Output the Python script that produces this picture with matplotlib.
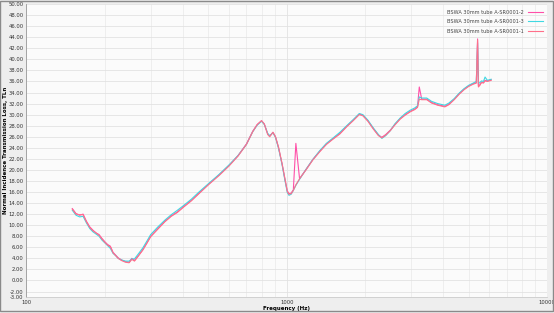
import numpy as np
import matplotlib
matplotlib.use("Agg")
import matplotlib.pyplot as plt
from matplotlib.patches import Rectangle
from matplotlib.ticker import FixedLocator, NullFormatter

# frequency points (Hz), shared by all three measurements
freq = [150, 155, 160, 165, 170, 175, 180, 185, 190, 195,
        200, 205, 210, 215, 220, 225, 232, 240, 248, 254,
        260, 270, 280, 290, 300, 320, 340, 360, 380, 400,
        430, 460, 500, 550, 600, 650, 700, 740, 770, 800,
        820, 845, 860, 885, 905, 930, 960, 985, 1005, 1020,
        1040, 1060, 1084, 1120, 1190, 1260, 1340, 1420, 1500, 1600,
        1700, 1800, 1900, 1960, 2050, 2150, 2250, 2320, 2400, 2500,
        2600, 2730, 2850, 2980, 3100, 3180, 3230, 3300, 3450, 3600,
        3800, 4050, 4200, 4400, 4600, 4800, 5000, 5200, 5350, 5410,
        5450, 5520, 5600, 5700, 5780, 5900, 6100]

# A-SR0001-2
tl_2 = [13.0, 12.1, 11.8, 12.0, 10.7, 9.7, 9.1, 8.6, 8.3, 7.6,
        7.0, 6.5, 6.2, 5.1, 4.6, 4.1, 3.7, 3.4, 3.3, 4.0,
        3.6, 4.6, 5.6, 6.8, 8.0, 9.4, 10.7, 11.7, 12.4, 13.3,
        14.5, 15.8, 17.4, 19.1, 20.8, 22.6, 24.7, 27.0, 28.2, 28.9,
        28.3, 26.5, 26.1, 26.8, 26.0, 24.0, 21.0, 18.2, 16.2, 15.7,
        15.8, 16.4, 24.8, 18.4, 20.2, 21.9, 23.4, 24.7, 25.6, 26.6,
        27.9, 29.0, 30.1, 29.9, 28.9, 27.5, 26.3, 25.9, 26.4, 27.2,
        28.2, 29.3, 30.0, 30.6, 31.0, 31.4, 35.0, 32.8, 32.8, 32.2,
        31.8, 31.5, 31.9, 32.8, 33.8, 34.6, 35.2, 35.6, 35.8, 43.7,
        35.2, 35.4, 35.9, 35.8, 36.2, 36.1, 36.3]

# A-SR0001-3
tl_3 = [12.7, 11.8, 11.5, 11.6, 10.4, 9.4, 8.8, 8.4, 8.0, 7.3,
        6.8, 6.3, 5.8, 4.9, 4.5, 4.0, 3.7, 3.5, 3.5, 3.9,
        3.9, 4.9, 5.9, 7.1, 8.3, 9.7, 10.9, 11.9, 12.7, 13.5,
        14.7, 16.0, 17.5, 19.2, 20.9, 22.6, 24.6, 26.9, 28.1, 28.8,
        28.2, 26.6, 26.2, 26.7, 25.9, 23.9, 20.9, 18.0, 15.9, 15.4,
        15.6, 16.3, 17.2, 18.3, 20.2, 21.9, 23.5, 24.8, 25.7, 26.8,
        28.0, 29.1, 30.2, 30.0, 29.0, 27.6, 26.4, 25.7, 26.2, 27.1,
        28.3, 29.4, 30.2, 30.8, 31.2, 31.6, 33.2, 33.0, 33.0, 32.4,
        32.0, 31.7, 32.1, 32.9, 33.9, 34.7, 35.3, 35.7, 36.0, 43.0,
        35.6, 35.8, 36.1, 36.0, 36.8, 36.2, 36.4]

# A-SR0001-1
tl_1 = [12.9, 12.0, 11.9, 11.9, 10.6, 9.6, 9.0, 8.6, 8.2, 7.5,
        6.9, 6.4, 6.1, 5.0, 4.5, 4.0, 3.6, 3.3, 3.2, 3.8,
        3.5, 4.5, 5.5, 6.7, 7.9, 9.3, 10.6, 11.6, 12.3, 13.2,
        14.4, 15.7, 17.3, 19.0, 20.7, 22.5, 24.6, 26.9, 28.2, 28.9,
        28.3, 26.4, 26.0, 26.8, 26.0, 24.1, 21.1, 18.3, 16.1, 15.6,
        15.7, 16.3, 17.3, 18.4, 20.1, 21.8, 23.3, 24.6, 25.5, 26.5,
        27.8, 28.9, 30.0, 29.8, 28.8, 27.4, 26.2, 25.8, 26.3, 27.1,
        28.1, 29.2, 29.9, 30.5, 30.9, 31.3, 32.8, 32.7, 32.7, 32.1,
        31.7, 31.4, 31.8, 32.7, 33.7, 34.5, 35.1, 35.5, 35.7, 43.5,
        35.0, 35.3, 35.8, 35.7, 36.1, 36.0, 36.2]

series_names = ["BSWA 30mm tube A-SR0001-2",
                "BSWA 30mm tube A-SR0001-3",
                "BSWA 30mm tube A-SR0001-1"]
series_vals = [tl_2, tl_3, tl_1]
series_colors = ["#ff4fa8", "#3fd8e2", "#ff6f8a"]

y_ticks = [-3] + list(range(-2, 51, 2))

fig = plt.figure(figsize=(5.54, 3.13), dpi=100, facecolor="#eeeeee")
ax = fig.add_axes([0.0478, 0.051, 0.9396, 0.936])
ax.set_facecolor("#fbfbfb")

# draw cyan first so pink dominates like the original
order = [1, 2, 0]
handles = [None] * 3
for i in order:
    (ln,) = ax.plot(freq, series_vals[i], color=series_colors[i], lw=0.8,
                    label=series_names[i], zorder=2 + i)
    handles[i] = ln

ax.set_xscale("log")
ax.set_xlim(100, 10000)
ax.set_ylim(-3, 50)
ax.set_yticks(y_ticks)
ax.set_yticklabels([f"{v:.2f}" for v in y_ticks], fontsize=3.8, color="#333333")
ax.set_xticks([100, 1000, 10000])
ax.set_xticklabels(["100", "1000", "10000"], fontsize=3.8, color="#333333")
ax.xaxis.set_minor_locator(FixedLocator(
    [m * d for d in (100, 1000) for m in range(2, 10)]))
ax.xaxis.set_minor_formatter(NullFormatter())
ax.tick_params(length=0, which="both", pad=2)

ax.grid(True, which="major", color="#e2e2e2", lw=0.6)
ax.grid(True, which="minor", axis="x", color="#ececec", lw=0.6)
ax.set_axisbelow(True)
for side in ("top", "right"):
    ax.spines[side].set_visible(False)
ax.spines["left"].set_color("#999999")
ax.spines["bottom"].set_color("#cccccc")
for s in ("left", "bottom"):
    ax.spines[s].set_linewidth(0.6)

ax.set_xlabel("Frequency (Hz)", fontsize=4, fontweight="bold", labelpad=1)
ax.set_ylabel("Normal Incidence Transmission Loss, TLn", fontsize=4,
              fontweight="bold", labelpad=0.5)

leg = ax.legend(handles=handles, loc="upper right", frameon=False,
                fontsize=3.6, markerfirst=False, handlelength=3.0,
                labelspacing=0.9, bbox_to_anchor=(1.0, 0.995),
                borderaxespad=0.4)
for t in leg.get_texts():
    t.set_color("#444444")

# outer panel border
fig.patches.append(Rectangle((0.0, 0.006), 0.998, 0.992, transform=fig.transFigure,
                             fill=False, edgecolor="#8a8a8a", lw=1.0))

fig.savefig("out.png", dpi=100, facecolor=fig.get_facecolor())
